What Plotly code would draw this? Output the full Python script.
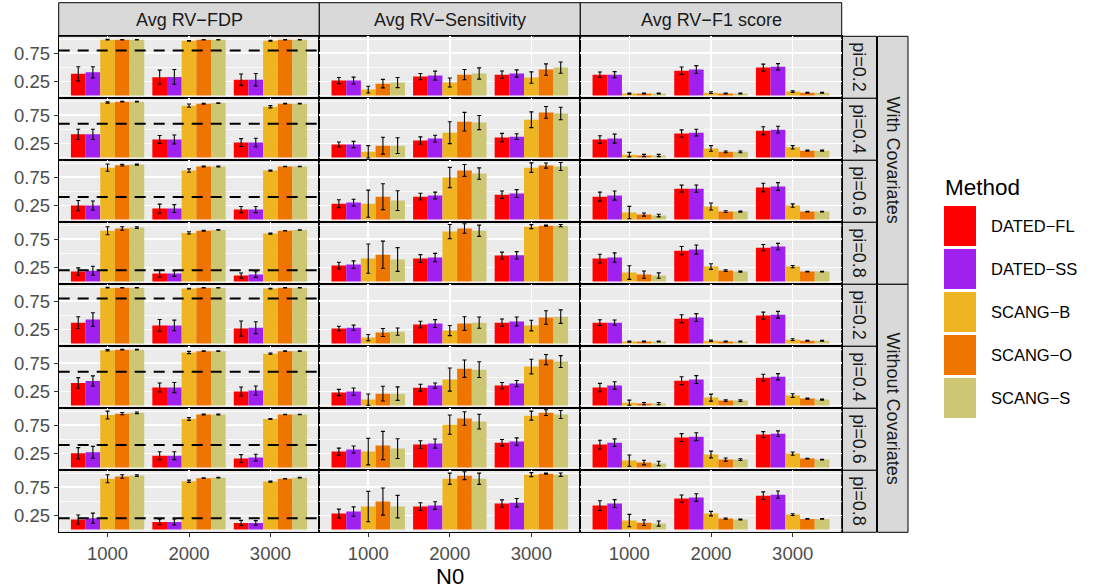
import plotly.graph_objects as go

W, H = 1099, 588

N0 = ["1000", "2000", "3000"]
METHODS = ["DATED\u2212FL", "DATED\u2212SS", "SCANG\u2212B", "SCANG\u2212O", "SCANG\u2212S"]
COLORS = ["#FF0000", "#A020F0", "#EEB422", "#EE7600", "#CDC673"]
PI = [0.2, 0.4, 0.6, 0.8]
METRICS = ["Avg RV\u2212FDP", "Avg RV\u2212Sensitivity", "Avg RV\u2212F1 score"]
COVS = ["With Covariates", "Without Covariates"]

# each array: rows pi=0.2..0.8; per row: N0 groups 1000,2000,3000; per group 5 methods
FDP_WITH = [
    [[0.385, 0.41, 0.99, 0.99, 0.99], [0.325, 0.33, 0.97, 0.99, 0.99], [0.28, 0.28, 0.97, 0.99, 0.99]],
    [[0.41, 0.41, 0.975, 0.99, 0.99], [0.32, 0.32, 0.92, 0.955, 0.965], [0.265, 0.265, 0.90, 0.955, 0.955]],
    [[0.247, 0.247, 0.92, 0.963, 0.975], [0.193, 0.193, 0.868, 0.94, 0.94], [0.176, 0.176, 0.868, 0.94, 0.94]],
    [[0.176, 0.19, 0.90, 0.94, 0.957], [0.14, 0.14, 0.862, 0.90, 0.915], [0.105, 0.122, 0.85, 0.90, 0.915]],
]
FDP_WITH_ERR = [
    [[0.125, 0.10, 0.005, 0.004, 0.004], [0.125, 0.13, 0.006, 0.004, 0.004], [0.10, 0.11, 0.008, 0.004, 0.004]],
    [[0.09, 0.09, 0.012, 0.006, 0.006], [0.07, 0.08, 0.03, 0.008, 0.006], [0.07, 0.075, 0.02, 0.006, 0.006]],
    [[0.09, 0.08, 0.065, 0.015, 0.01], [0.08, 0.07, 0.03, 0.006, 0.006], [0.055, 0.055, 0.01, 0.004, 0.004]],
    [[0.065, 0.08, 0.07, 0.03, 0.015], [0.06, 0.05, 0.02, 0.006, 0.006], [0.045, 0.05, 0.01, 0.004, 0.004]],
]
FDP_WITHOUT = [
    [[0.37, 0.425, 0.99, 0.99, 0.99], [0.32, 0.32, 0.975, 0.99, 0.99], [0.265, 0.28, 0.975, 0.99, 0.99]],
    [[0.40, 0.435, 0.98, 0.99, 0.99], [0.318, 0.318, 0.94, 0.963, 0.963], [0.247, 0.265, 0.92, 0.963, 0.963]],
    [[0.253, 0.27, 0.93, 0.955, 0.97], [0.21, 0.21, 0.86, 0.94, 0.94], [0.158, 0.176, 0.86, 0.94, 0.94]],
    [[0.176, 0.20, 0.90, 0.94, 0.957], [0.134, 0.134, 0.856, 0.91, 0.92], [0.117, 0.117, 0.85, 0.90, 0.92]],
]
FDP_WITHOUT_ERR = [
    [[0.105, 0.12, 0.005, 0.004, 0.004], [0.105, 0.095, 0.006, 0.004, 0.004], [0.135, 0.105, 0.006, 0.004, 0.004]],
    [[0.095, 0.09, 0.012, 0.006, 0.006], [0.08, 0.09, 0.02, 0.006, 0.006], [0.08, 0.08, 0.01, 0.005, 0.005]],
    [[0.10, 0.105, 0.07, 0.02, 0.015], [0.07, 0.07, 0.025, 0.006, 0.006], [0.07, 0.06, 0.01, 0.004, 0.004]],
    [[0.08, 0.09, 0.07, 0.03, 0.015], [0.05, 0.055, 0.02, 0.006, 0.006], [0.045, 0.04, 0.01, 0.004, 0.004]],
]
SENS_WITH = [
    [[0.265, 0.265, 0.105, 0.21, 0.23], [0.335, 0.353, 0.23, 0.37, 0.39], [0.37, 0.39, 0.318, 0.46, 0.495]],
    [[0.23, 0.23, 0.10, 0.21, 0.21], [0.30, 0.335, 0.44, 0.635, 0.62], [0.353, 0.37, 0.67, 0.80, 0.78]],
    [[0.28, 0.30, 0.28, 0.405, 0.335], [0.405, 0.425, 0.745, 0.87, 0.815], [0.44, 0.46, 0.92, 0.957, 0.94]],
    [[0.282, 0.30, 0.406, 0.476, 0.39], [0.406, 0.424, 0.886, 0.94, 0.90], [0.46, 0.465, 0.973, 0.99, 0.99]],
]
SENS_WITH_ERR = [
    [[0.055, 0.06, 0.06, 0.075, 0.09], [0.055, 0.08, 0.08, 0.09, 0.10], [0.065, 0.065, 0.10, 0.10, 0.10]],
    [[0.045, 0.055, 0.11, 0.15, 0.14], [0.065, 0.06, 0.195, 0.165, 0.125], [0.075, 0.05, 0.14, 0.105, 0.11]],
    [[0.07, 0.06, 0.24, 0.23, 0.175], [0.06, 0.06, 0.18, 0.105, 0.10], [0.065, 0.07, 0.085, 0.045, 0.07]],
    [[0.06, 0.065, 0.26, 0.24, 0.21], [0.07, 0.075, 0.125, 0.085, 0.10], [0.06, 0.065, 0.035, 0.01, 0.02]],
]
SENS_WITHOUT = [
    [[0.265, 0.28, 0.105, 0.195, 0.21], [0.335, 0.353, 0.23, 0.353, 0.37], [0.37, 0.39, 0.318, 0.46, 0.476]],
    [[0.23, 0.246, 0.105, 0.21, 0.21], [0.316, 0.353, 0.46, 0.653, 0.636], [0.353, 0.388, 0.69, 0.814, 0.78]],
    [[0.282, 0.318, 0.282, 0.39, 0.335], [0.406, 0.424, 0.76, 0.87, 0.814], [0.44, 0.46, 0.92, 0.973, 0.94]],
    [[0.282, 0.318, 0.406, 0.495, 0.406], [0.406, 0.424, 0.90, 0.955, 0.90], [0.46, 0.476, 0.973, 0.99, 0.973]],
]
SENS_WITHOUT_ERR = [
    [[0.04, 0.045, 0.055, 0.07, 0.065], [0.06, 0.07, 0.09, 0.12, 0.10], [0.065, 0.08, 0.095, 0.12, 0.12]],
    [[0.055, 0.065, 0.10, 0.13, 0.12], [0.062, 0.045, 0.205, 0.155, 0.14], [0.055, 0.055, 0.13, 0.09, 0.105]],
    [[0.062, 0.062, 0.235, 0.25, 0.175], [0.068, 0.08, 0.17, 0.12, 0.13], [0.057, 0.065, 0.08, 0.05, 0.07]],
    [[0.08, 0.083, 0.27, 0.24, 0.20], [0.068, 0.068, 0.10, 0.07, 0.10], [0.065, 0.075, 0.035, 0.01, 0.03]],
]
F1_WITH = [
    [[0.37, 0.37, 0.034, 0.034, 0.034], [0.44, 0.46, 0.05, 0.034, 0.034], [0.495, 0.51, 0.07, 0.05, 0.05]],
    [[0.318, 0.335, 0.05, 0.035, 0.035], [0.424, 0.44, 0.16, 0.10, 0.10], [0.476, 0.494, 0.18, 0.12, 0.12]],
    [[0.405, 0.424, 0.122, 0.087, 0.07], [0.547, 0.547, 0.23, 0.14, 0.14], [0.566, 0.584, 0.247, 0.14, 0.14]],
    [[0.406, 0.424, 0.158, 0.122, 0.105], [0.547, 0.566, 0.264, 0.194, 0.176], [0.60, 0.62, 0.264, 0.176, 0.176]],
]
F1_WITH_ERR = [
    [[0.047, 0.053, 0.01, 0.008, 0.008], [0.065, 0.07, 0.015, 0.008, 0.008], [0.062, 0.056, 0.015, 0.008, 0.008]],
    [[0.068, 0.08, 0.04, 0.02, 0.02], [0.065, 0.06, 0.05, 0.015, 0.015], [0.07, 0.06, 0.03, 0.01, 0.01]],
    [[0.08, 0.08, 0.11, 0.028, 0.024], [0.062, 0.065, 0.062, 0.015, 0.01], [0.077, 0.07, 0.03, 0.005, 0.005]],
    [[0.077, 0.083, 0.12, 0.065, 0.047], [0.074, 0.08, 0.05, 0.015, 0.01], [0.056, 0.056, 0.02, 0.005, 0.005]],
]
F1_WITHOUT = [
    [[0.37, 0.37, 0.034, 0.034, 0.034], [0.44, 0.46, 0.05, 0.034, 0.034], [0.495, 0.51, 0.068, 0.05, 0.05]],
    [[0.318, 0.353, 0.05, 0.034, 0.034], [0.44, 0.46, 0.14, 0.087, 0.087], [0.494, 0.51, 0.176, 0.122, 0.105]],
    [[0.406, 0.44, 0.122, 0.087, 0.07], [0.53, 0.547, 0.23, 0.14, 0.14], [0.584, 0.60, 0.246, 0.158, 0.14]],
    [[0.424, 0.46, 0.158, 0.12, 0.105], [0.548, 0.566, 0.282, 0.193, 0.176], [0.60, 0.618, 0.264, 0.187, 0.187]],
]
F1_WITHOUT_ERR = [
    [[0.05, 0.047, 0.01, 0.008, 0.008], [0.07, 0.07, 0.012, 0.008, 0.008], [0.062, 0.06, 0.015, 0.008, 0.008]],
    [[0.074, 0.068, 0.045, 0.02, 0.02], [0.07, 0.07, 0.062, 0.015, 0.015], [0.06, 0.056, 0.033, 0.01, 0.01]],
    [[0.077, 0.068, 0.10, 0.04, 0.04], [0.07, 0.07, 0.06, 0.027, 0.015], [0.053, 0.05, 0.03, 0.005, 0.005]],
    [[0.086, 0.07, 0.11, 0.05, 0.045], [0.065, 0.068, 0.04, 0.012, 0.008], [0.068, 0.065, 0.015, 0.005, 0.005]],
]

DATA = {
    (0, 0): (FDP_WITH, FDP_WITH_ERR), (0, 1): (SENS_WITH, SENS_WITH_ERR), (0, 2): (F1_WITH, F1_WITH_ERR),
    (1, 0): (FDP_WITHOUT, FDP_WITHOUT_ERR), (1, 1): (SENS_WITHOUT, SENS_WITHOUT_ERR), (1, 2): (F1_WITHOUT, F1_WITHOUT_ERR),
}

FONT = "Liberation Sans, Arial, Helvetica, sans-serif"
TICK_SIZE = 18.5
STRIP_SIZE = 18

# ---- layout geometry (pixels) ----
COL_X = [58.7, 319.3, 580.3, 841.7]
ROW_TOP = 36.3
ROW_H = 62.0
STRIP_TOP = 2.7


def px(x):
    return x / W


def py(y):
    return 1 - y / H


fig = go.Figure()
layout = dict()
shapes = []
annotations = []

for r in range(8):
    cov = r // 4
    pi_i = r % 4
    y0 = ROW_TOP + ROW_H * r
    y1 = y0 + ROW_H
    for c in range(3):
        k = r * 3 + c + 1
        xa = "x" if k == 1 else f"x{k}"
        ya = "y" if k == 1 else f"y{k}"
        vals, errs = DATA[(cov, c)]
        for m in range(5):
            fig.add_trace(go.Bar(
                x=N0,
                y=[vals[pi_i][g][m] for g in range(3)],
                error_y=dict(type="data", array=[errs[pi_i][g][m] for g in range(3)],
                             color="black", thickness=1.1, width=2),
                marker=dict(color=COLORS[m], line=dict(width=0)),
                name=METHODS[m], showlegend=False,
                xaxis=xa, yaxis=ya,
            ))
        bottom = r == 7
        left = c == 0
        layout["xaxis" if k == 1 else f"xaxis{k}"] = dict(
            domain=[px(COL_X[c]), px(COL_X[c + 1])],
            anchor=ya, type="category", categoryorder="array", categoryarray=N0,
            range=[-0.6, 2.6], showgrid=True, gridcolor="white", gridwidth=1.6,
            showline=True, mirror=True, linecolor="black", linewidth=1,
            ticks="outside" if bottom else "", ticklen=4, tickwidth=1, tickcolor="#333333",
            showticklabels=bottom, tickfont=dict(family=FONT, size=TICK_SIZE, color="#4D4D4D"),
            zeroline=False, fixedrange=True,
        )
        layout["yaxis" if k == 1 else f"yaxis{k}"] = dict(
            domain=[py(y1), py(y0)], anchor=xa, range=[-0.05, 1.05],
            tickvals=[0.25, 0.75], ticktext=["0.25", "0.75"],
            showgrid=True, gridcolor="white", gridwidth=1.6,
            minor=dict(tickvals=[0, 0.5, 1.0], showgrid=True, gridcolor="white", gridwidth=0.8, ticks=""),
            showline=True, mirror=True, linecolor="black", linewidth=1,
            ticks="outside" if left else "", ticklen=4, tickwidth=1, tickcolor="#333333",
            showticklabels=left, tickfont=dict(family=FONT, size=TICK_SIZE, color="#4D4D4D"),
            zeroline=False, fixedrange=True,
        )
        if c == 0:
            shapes.append(dict(type="line", xref=f"{xa} domain", yref=ya, x0=0, x1=1,
                               y0=1 - PI[pi_i], y1=1 - PI[pi_i],
                               line=dict(color="black", width=2, dash="11px,8px"), layer="above"))
    # right inner strip
    shapes.append(dict(type="rect", xref="paper", yref="paper", x0=px(841.7), x1=px(876.5),
                       y0=py(y1), y1=py(y0), fillcolor="#D9D9D9", line=dict(color="black", width=1), layer="below"))
    annotations.append(dict(text=f"pi={PI[pi_i]}", xref="paper", yref="paper", x=px(859.1), y=py((y0 + y1) / 2),
                            showarrow=False, textangle=90, font=dict(family=FONT, size=STRIP_SIZE, color="#1A1A1A"),
                            xanchor="center", yanchor="middle"))

# top strips
for c in range(3):
    shapes.append(dict(type="rect", xref="paper", yref="paper", x0=px(COL_X[c]), x1=px(COL_X[c + 1]),
                       y0=py(ROW_TOP), y1=py(STRIP_TOP), fillcolor="#D9D9D9", line=dict(color="black", width=1), layer="below"))
    annotations.append(dict(text=METRICS[c], xref="paper", yref="paper", x=px((COL_X[c] + COL_X[c + 1]) / 2),
                            y=py((ROW_TOP + STRIP_TOP) / 2), showarrow=False,
                            font=dict(family=FONT, size=STRIP_SIZE, color="#1A1A1A"), xanchor="center", yanchor="middle"))

# outer strips
for i in range(2):
    ya0 = ROW_TOP + ROW_H * 4 * i
    ya1 = ya0 + ROW_H * 4
    shapes.append(dict(type="rect", xref="paper", yref="paper", x0=px(877.5), x1=px(908),
                       y0=py(ya1), y1=py(ya0), fillcolor="#D9D9D9", line=dict(color="black", width=1), layer="below"))
    annotations.append(dict(text=COVS[i], xref="paper", yref="paper", x=px(892.7), y=py((ya0 + ya1) / 2),
                            showarrow=False, textangle=90, font=dict(family=FONT, size=STRIP_SIZE, color="#1A1A1A"),
                            xanchor="center", yanchor="middle"))

# x title
annotations.append(dict(text="N0", xref="paper", yref="paper", x=px((COL_X[0] + COL_X[3]) / 2), y=py(576),
                        showarrow=False, font=dict(family=FONT, size=22, color="black"),
                        xanchor="center", yanchor="middle"))

# legend
annotations.append(dict(text="Method", xref="paper", yref="paper", x=px(943), y=py(187),
                        showarrow=False, font=dict(family=FONT, size=22.5, color="black"),
                        xanchor="left", yanchor="middle"))
for m in range(5):
    cy = 226 + 43 * m
    shapes.append(dict(type="rect", xref="paper", yref="paper", x0=px(944), x1=px(976),
                       y0=py(cy + 20), y1=py(cy - 20), fillcolor=COLORS[m], line=dict(width=0)))
    annotations.append(dict(text=METHODS[m], xref="paper", yref="paper", x=px(989), y=py(cy),
                            showarrow=False, font=dict(family=FONT, size=16.5, color="black"),
                            xanchor="left", yanchor="middle"))

fig.update_layout(
    width=W, height=H, margin=dict(l=0, r=0, t=0, b=0),
    paper_bgcolor="white", plot_bgcolor="#EBEBEB",
    barmode="group", bargap=0.1, bargroupgap=0,
    showlegend=False, shapes=shapes, annotations=annotations,
    font=dict(family=FONT),
    **layout,
)

fig.write_html(
    "out.html",
    config={"displayModeBar": False, "staticPlot": True},
    post_script="document.body.style.margin='0';document.body.style.padding='0';document.body.style.overflow='hidden';",
)
